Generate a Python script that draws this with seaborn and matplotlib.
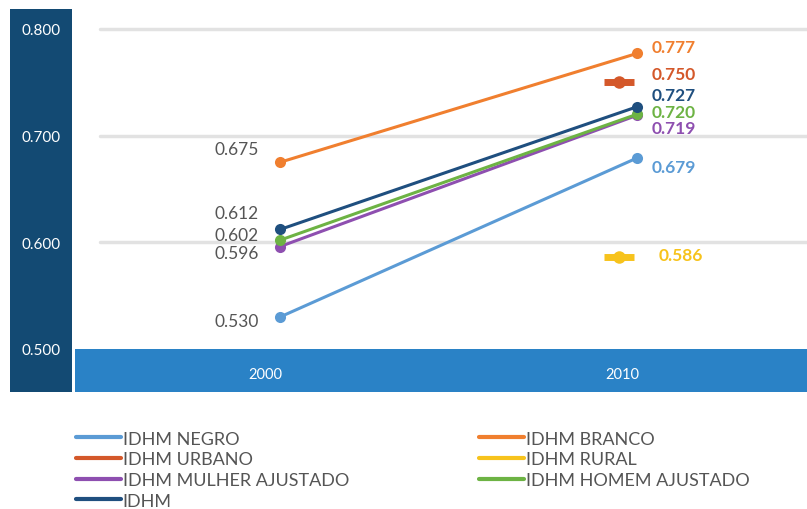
import pandas as pd
import matplotlib.pyplot as plt
import matplotlib.transforms as mtransforms
from matplotlib.lines import Line2D
import seaborn as sns

# --- Datos ---
anos = ["2000", "2010"]
series = ["IDHM NEGRO", "IDHM BRANCO", "IDHM MULHER AJUSTADO", "IDHM HOMEM AJUSTADO", "IDHM"]
idhm_negro = [0.530, 0.679]
idhm_branco = [0.675, 0.777]
idhm_mulher = [0.596, 0.719]
idhm_homem = [0.602, 0.720]
idhm_total = [0.612, 0.727]
idhm_urbano_2010 = 0.750
idhm_rural_2010 = 0.586

cores = {
    "IDHM NEGRO": "#5b9bd5",
    "IDHM BRANCO": "#f07f2f",
    "IDHM URBANO": "#d4582a",
    "IDHM RURAL": "#f7c31c",
    "IDHM MULHER AJUSTADO": "#8e4fb0",
    "IDHM HOMEM AJUSTADO": "#6db344",
    "IDHM": "#1f4f7f",
}

valores = [idhm_negro, idhm_branco, idhm_mulher, idhm_homem, idhm_total]
df = pd.DataFrame({
    "serie": [s for s in series for _ in anos],
    "x": [i for _ in series for i in range(len(anos))],
    "valor": [v for vals in valores for v in vals],
})
df_pt = pd.DataFrame({
    "serie": ["IDHM URBANO", "IDHM RURAL"],
    "x": [0.95, 0.95],
    "valor": [idhm_urbano_2010, idhm_rural_2010],
})

sns.set_style("white")
plt.rcParams["font.family"] = ["Lato", "DejaVu Sans"]

W, H, DPI = 807, 510, 100
fig = plt.figure(figsize=(W / DPI, H / DPI), dpi=DPI)

def px_axes(x0, y0, x1, y1):
    return fig.add_axes([x0 / W, 1 - y1 / H, (x1 - x0) / W, (y1 - y0) / H])

# franjas de fondo
nav = px_axes(10, 10, 72, 393)
nav.set_facecolor("#134a73")
nav.set_xticks([]); nav.set_yticks([])
for s in nav.spines.values():
    s.set_visible(False)

banda = px_axes(75, 350, 807, 393)
banda.set_facecolor("#2a82c6")
banda.set_xticks([]); banda.set_yticks([])
for s in banda.spines.values():
    s.set_visible(False)

ax = px_axes(75, 10, 807, 350)
ax.patch.set_alpha(0)
y0 = 0.5
y1 = 0.5 + 340 / 1067
ax.set_ylim(y0, y1)
ax.set_xlim(-205 / 357, 1 + 170 / 357)
for s in ax.spines.values():
    s.set_visible(False)

for g in [0.6, 0.7, 0.8]:
    ax.axhline(g, xmin=25 / 732, xmax=1, color="#e2e2e2", lw=2.5, zorder=0)

sns.lineplot(data=df, x="x", y="valor", hue="serie", palette=cores, marker="o",
             markersize=8, markeredgewidth=0, linewidth=2.2, ax=ax, legend=False)

for _, r in df_pt.iterrows():
    c = cores[r["serie"]]
    ax.plot(r["x"], r["valor"], marker="_", markersize=22, mew=5, color=c, zorder=3)
    ax.plot(r["x"], r["valor"], marker="o", markersize=9, mew=0, color=c, zorder=4)

# etiquetas 2000 (gris, a la izquierda)
off_2000 = {"IDHM BRANCO": 0.012, "IDHM": 0.0155, "IDHM HOMEM AJUSTADO": 0.005,
            "IDHM MULHER AJUSTADO": -0.006, "IDHM NEGRO": -0.004}
for s, vals in zip(series, valores):
    ax.text(-0.06, vals[0] + off_2000[s], f"{vals[0]:.3f}", ha="right", va="center",
            fontsize=12.5, color="#555555")

# etiquetas 2010 (color, derecha)
lab_2010 = [
    ("IDHM BRANCO", idhm_branco[1], 0.006),
    ("IDHM URBANO", idhm_urbano_2010, 0.008),
    ("IDHM", idhm_total[1], 0.011),
    ("IDHM HOMEM AJUSTADO", idhm_homem[1], 0.002),
    ("IDHM MULHER AJUSTADO", idhm_mulher[1], -0.012),
    ("IDHM NEGRO", idhm_negro[1], -0.008),
    ("IDHM RURAL", idhm_rural_2010, 0.002),
]
for s, v, off in lab_2010:
    dx = 0.06 if s == "IDHM RURAL" else 0.04
    ax.text(1 + dx, v + off, f"{v:.3f}", ha="left", va="center", fontsize=12.5,
            fontweight="bold", color=cores[s])

# ejes
ax.set_yticks([0.5, 0.6, 0.7, 0.8], ["0.500", "0.600", "0.700", "0.800"])
ax.tick_params(axis="y", length=0, pad=10, labelcolor="white", labelsize=11)
ax.set_xticks([0, 1], anos)
ax.tick_params(axis="x", length=0, pad=13, labelcolor="white", labelsize=10.5)
shift = mtransforms.ScaledTranslation(-15 / DPI, 0, fig.dpi_scale_trans)
for lbl in ax.get_xticklabels():
    lbl.set_transform(lbl.get_transform() + shift)
ax.set_xlabel("")
ax.set_ylabel("")

# leyenda
orden = ["IDHM NEGRO", "IDHM URBANO", "IDHM MULHER AJUSTADO", "IDHM",
         "IDHM BRANCO", "IDHM RURAL", "IDHM HOMEM AJUSTADO"]
handles = [Line2D([], [], color=cores[s], lw=3) for s in orden]
fig.legend(handles, orden, loc="upper left", bbox_to_anchor=(72 / W, 1 - 428 / H),
           ncol=2, frameon=False, fontsize=13, handlelength=2.5, handletextpad=0.1,
           labelspacing=0.26, columnspacing=7.2, labelcolor="#555555",
           borderaxespad=0, borderpad=0.2)

fig.savefig("out.png", dpi=DPI)
